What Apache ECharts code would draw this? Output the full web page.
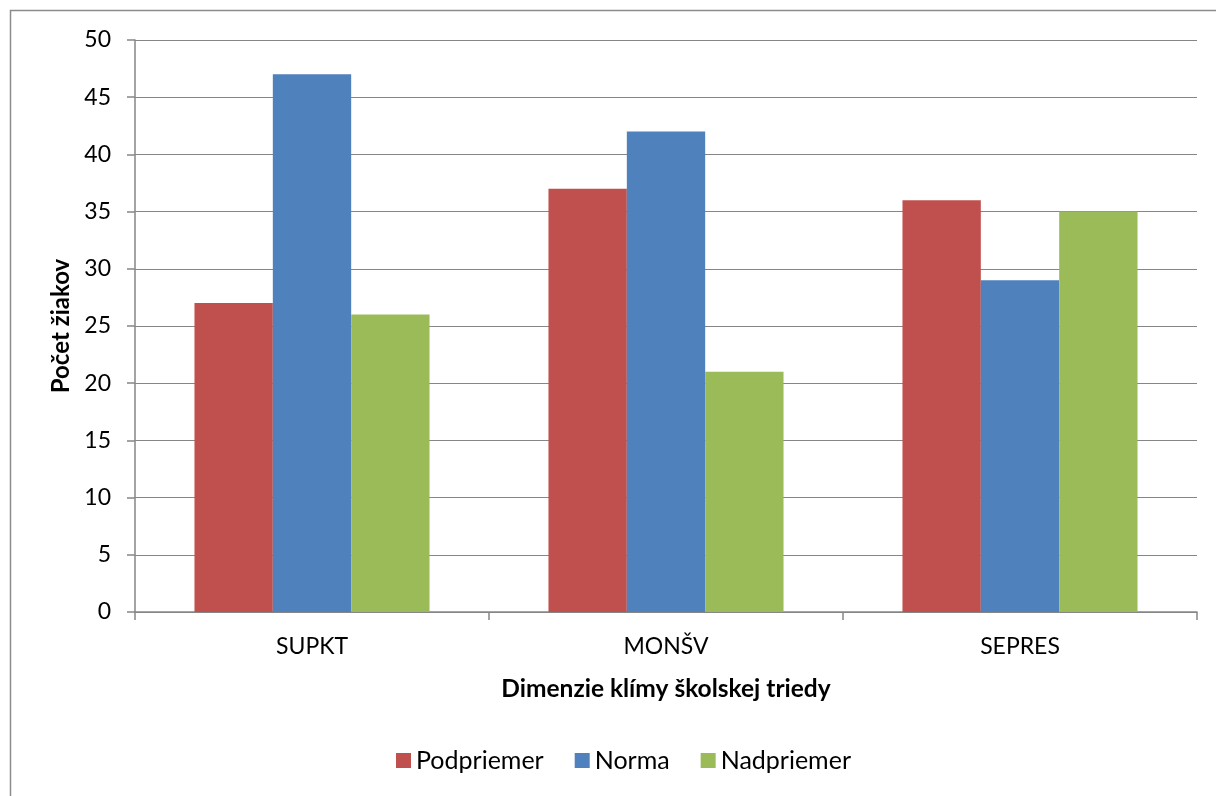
<!DOCTYPE html>
<html>
<head>
<meta charset="utf-8">
<style>
  html, body { margin: 0; padding: 0; background: #fff; }
  #chart { width: 1216px; height: 796px; }
</style>
<script src="https://cdn.jsdelivr.net/npm/echarts@6/dist/echarts.min.js"></script>
</head>
<body>
<div id="chart"></div>
<script>
// Categories (climate dimensions) and per-group counts
const categories = ['SUPKT', 'MONŠV', 'SEPRES'];
const podpriemer = [27, 37, 36];
const norma = [47, 42, 29];
const nadpriemer = [26, 21, 35];
const seriesNames = ['Podpriemer', 'Norma', 'Nadpriemer'];
const yTicks = { min: 0, max: 50, interval: 5 };

const FONT = 'Lato, "Open Sans", sans-serif';
const chart = echarts.init(document.getElementById('chart'));

chart.setOption({
  backgroundColor: '#ffffff',
  animation: false,
  textStyle: { fontFamily: FONT, color: '#000' },
  graphic: [{
    type: 'rect',
    shape: { x: 10.5, y: 10.5, width: 1240, height: 820 },
    style: { fill: 'none', stroke: '#8c8c8c', lineWidth: 1.5 },
    silent: true
  }],
  grid: { left: 135, right: 19, top: 40, bottom: 184, containLabel: false },
  legend: {
    data: seriesNames,
    bottom: 18,
    left: 391,
    icon: 'rect',
    itemWidth: 15,
    itemHeight: 15,
    itemGap: 31,
    textStyle: { fontFamily: FONT, fontSize: 25, color: '#000' }
  },
  xAxis: {
    type: 'category',
    data: categories,
    name: 'Dimenzie klímy školskej triedy',
    nameLocation: 'middle',
    nameGap: 65,
    nameTextStyle: { fontFamily: FONT, fontSize: 24.5, fontWeight: 'bold', color: '#000' },
    axisLine: { lineStyle: { color: '#868686', width: 1.5 } },
    axisTick: { show: true, alignWithLabel: false, length: 8, lineStyle: { color: '#868686', width: 1.5 } },
    axisLabel: { fontFamily: FONT, fontSize: 23, color: '#000', margin: 23 }
  },
  yAxis: {
    type: 'value',
    min: yTicks.min,
    max: yTicks.max,
    interval: yTicks.interval,
    name: 'Počet žiakov',
    nameLocation: 'middle',
    nameGap: 61,
    nameRotate: 90,
    nameTextStyle: { fontFamily: FONT, fontSize: 24, fontWeight: 'bold', color: '#000' },
    axisLine: { show: true, lineStyle: { color: '#868686', width: 1.5 } },
    axisTick: { show: true, length: 8, lineStyle: { color: '#868686', width: 1.5 } },
    axisLabel: { fontFamily: FONT, fontSize: 23, color: '#000', margin: 24 },
    splitLine: { show: true, lineStyle: { color: '#868686', width: 1.2 } }
  },
  series: [
    { name: seriesNames[0], type: 'bar', data: podpriemer, itemStyle: { color: '#C0504D' }, barGap: '0%', barCategoryGap: '33.6%' },
    { name: seriesNames[1], type: 'bar', data: norma, itemStyle: { color: '#4F81BD' }, barGap: '0%', barCategoryGap: '33.6%' },
    { name: seriesNames[2], type: 'bar', data: nadpriemer, itemStyle: { color: '#9BBB59' }, barGap: '0%', barCategoryGap: '33.6%' }
  ]
});
</script>
</body>
</html>
